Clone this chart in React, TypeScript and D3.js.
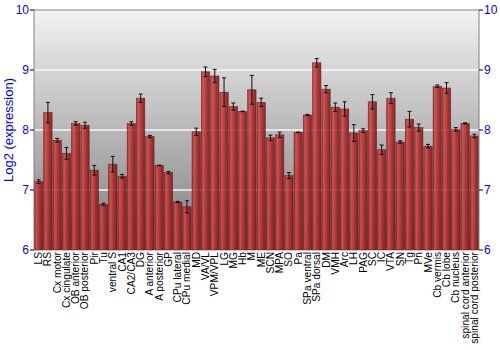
import React from "react";
import * as d3 from "d3";

const categories = ["LS","RS","Cx motor","Cx cingulate","OB anterior","OB posterior","Pir","Tu","ventral S","CA1","CA2/CA3","DG","A anterior","A posterior","GP","CPu lateral","CPu medial","MD","VA/VL","VPM/VPL","LG","MG","Hb","M","ME","SCN","MPA","SO","Pa","SPa ventral","SPa dorsal","DM","VMH","Arc","LH","PAG","SC","IC","VTA","SN","Tg","Pn","MVe","Cb vermis","Cb lobe","Cb nucleus","spinal cord anterior","spinal cord posterior"];
const values = [7.14,8.29,7.83,7.61,8.11,8.08,7.33,6.76,7.43,7.23,8.11,8.53,7.89,7.41,7.29,6.8,6.72,7.97,8.97,8.9,8.63,8.39,8.31,8.67,8.46,7.87,7.92,7.24,7.96,8.25,9.12,8.68,8.38,8.35,7.95,7.99,8.47,7.67,8.53,7.8,8.18,8.04,7.73,8.73,8.7,8.01,8.11,7.9];
const errors = [0.03,0.17,0.03,0.1,0.03,0.05,0.08,0.02,0.13,0.03,0.03,0.07,0.02,0.005,0.02,0.01,0.1,0.06,0.08,0.11,0.24,0.06,0.005,0.24,0.07,0.045,0.045,0.05,0.005,0.01,0.07,0.06,0.07,0.12,0.14,0.03,0.12,0.08,0.09,0.02,0.13,0.06,0.03,0.02,0.09,0.03,0.01,0.03];
const yTicks = [6,7,8,9,10];

export default function App() {
  const W = 500, H = 350;
  const left = 34, right = 479, top = 10, bottom = 250;
  const x = d3.scaleBand<string>().domain(categories).range([left, right]).paddingInner(0.1).paddingOuter(0.05);
  const y = d3.scaleLinear().domain([6, 10]).range([bottom, top]);
  const blue = "#0000ff";
  return (
    <svg width={W} height={H} style={{ position: "absolute", left: 0, top: 0, fontFamily: "'Liberation Sans', Arial, sans-serif" }}>
      <defs>
        <linearGradient id="bg" x1="0" y1="0" x2="0" y2="1">
          <stop offset="0%" stopColor="#f2f2f2" />
          <stop offset="100%" stopColor="#7e7e7e" />
        </linearGradient>
        <linearGradient id="bar" x1="0" y1="0" x2="1" y2="0">
          <stop offset="0%" stopColor="#a02222" />
          <stop offset="22%" stopColor="#d04848" />
          <stop offset="60%" stopColor="#a82828" />
          <stop offset="100%" stopColor="#7a1414" />
        </linearGradient>
      </defs>
      <rect width={W} height={H} fill="#ffffff" />
      <rect x={left} y={top} width={right - left} height={bottom - top} fill="url(#bg)" />
      {yTicks.slice(1, -1).map(t => (
        <line key={"g" + t} x1={left} x2={right} y1={y(t)} y2={y(t)} stroke="#f4f4f4" strokeWidth={1.5} />
      ))}
      {categories.map((c, i) => {
        const bx = x(c)!;
        const bw = x.bandwidth();
        const cx = bx + bw / 2;
        const v = values[i], e = errors[i];
        return (
          <g key={c}>
            <rect x={bx} y={y(v)} width={bw} height={bottom - y(v)} fill="url(#bar)" stroke="#6a1010" strokeWidth={0.6} opacity={0.88} />
            <line x1={cx} x2={cx} y1={y(v + e)} y2={y(v - e)} stroke="#111" strokeWidth={1} />
            <line x1={cx - 2} x2={cx + 2} y1={y(v + e)} y2={y(v + e)} stroke="#111" strokeWidth={1} />
            <line x1={cx - 2} x2={cx + 2} y1={y(v - e)} y2={y(v - e)} stroke="#111" strokeWidth={1} />
            <text transform={`translate(${cx + 3.5},${bottom + 2}) rotate(-90)`} textAnchor="end" fontSize={10.2} fill="#000">{c}</text>
          </g>
        );
      })}
      <line x1={left} x2={right} y1={top} y2={top} stroke="#808080" />
      <line x1={left} x2={left} y1={top} y2={bottom} stroke="#808080" />
      <line x1={right} x2={right} y1={top} y2={bottom} stroke="#808080" />
      {yTicks.map(t => (
        <g key={"t" + t}>
          <line x1={left - 4} x2={left} y1={y(t)} y2={y(t)} stroke="#000" />
          <text x={left - 5} y={y(t)} dy="0.35em" textAnchor="end" fontSize={12} fill={blue}>{t}</text>
          <line x1={right} x2={right + 4} y1={y(t)} y2={y(t)} stroke="#000" />
          <text x={right + 5} y={y(t)} dy="0.35em" textAnchor="start" fontSize={12} fill={blue}>{t}</text>
        </g>
      ))}
      <text transform={`translate(13,${(top + bottom) / 2}) rotate(-90)`} textAnchor="middle" fontSize={13} fill={blue}>Log2 (expression)</text>
    </svg>
  );
}
